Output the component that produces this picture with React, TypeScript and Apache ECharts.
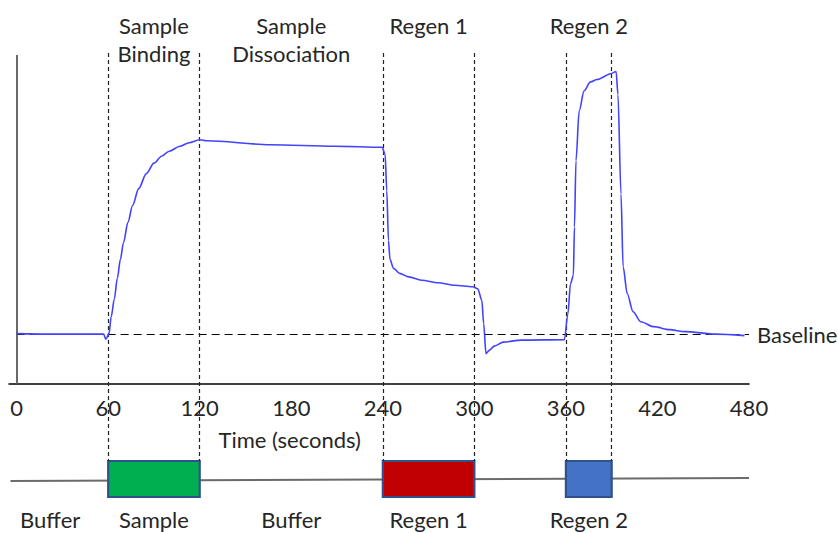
import React, { useEffect, useRef } from 'react';
import * as echarts from 'echarts';

// ---- data ----
const timeTicks = [0, 60, 120, 180, 240, 300, 360, 420, 480];
const eventTimes = [60, 120, 240, 300, 360, 390];

const responseTimes = [
  0, 20, 40, 57, 58.5, 60.5, 62, 64, 66, 68, 70, 73, 76, 80, 85, 90, 95, 100, 107, 113, 120,
  124.5, 165.9, 208.9, 239.5, 241.5, 242.6, 243.7, 244.7, 247, 251, 257, 265.4, 276.3, 287.1, 299,
  302.2, 304.9, 306.1, 307.6, 310, 313, 319, 330.8, 359, 361.3, 363, 364.9, 365.6, 366.6, 368.7,
  371.9, 376.1, 380.4, 390, 392.9, 394.1, 396.1, 397.5, 400.2, 404, 409, 417.6, 428, 438, 458.4, 477,
];
const responseValues = [
  1, 0, 0, 0, -10, 0, 35, 70, 112, 150, 183, 225, 258, 292, 322, 343, 357, 367, 377, 384, 390,
  388, 380, 377, 375, 361, 288, 188, 150, 132, 122, 115, 108, 103, 98, 95,
  91, 68, 21, -39, -32, -24, -16, -12, -11, 41, 101, 118, 215, 348, 448,
  488, 506, 511, 523, 527, 481, 281, 135, 81, 45, 25, 15, 9, 5, 0, -3,
];

const topLabels = ['Sample\nBinding', 'Sample\nDissociation', 'Regen 1', 'Regen 2'];
const topLabelTimes = [90, 180, 270, 375];

const injectionNames = ['Sample', 'Regen 1', 'Regen 2'];
const injectionStarts = [60, 240, 360];
const injectionEnds = [120, 300, 390];
const injectionColors = ['#00b050', '#c00000', '#4472c4'];

const bottomLabels = ['Buffer', 'Sample', 'Buffer', 'Regen 1', 'Regen 2'];
const bottomLabelTimes = [22, 90, 180, 270, 375];

const xAxisName = 'Time (seconds)';
const xAxisNameTime = 179;
const baselineName = 'Baseline';

const FONT = 'Lato, "Liberation Sans", sans-serif';
const TEXT = '#262626';

export default function App() {
  const ref = useRef<HTMLDivElement>(null);

  useEffect(() => {
    if (!ref.current) return;
    const chart = echarts.init(ref.current, undefined, { renderer: 'svg' });

    const curve = responseTimes.map((t, i) => [t, responseValues[i]]);

    const textItem = (label: string, t: number, y: number) => ({ label, t, y });
    const labelItems = [
      ...topLabels.map((l, i) => textItem(l, topLabelTimes[i], l.includes('\n') ? 39 : 25)),
      ...bottomLabels.map((l, i) => textItem(l, bottomLabelTimes[i], 519)),
      textItem(xAxisName, xAxisNameTime, 439),
    ];

    const option: any = {
      animation: false,
      textStyle: { fontFamily: FONT },
      grid: [
        { left: 9, right: 89, top: 55, bottom: 149 },
        { left: 9, right: 89, top: 0, bottom: 0 },
      ],
      xAxis: [
        {
          type: 'value',
          gridIndex: 0,
          min: -5,
          max: 480,
          axisLine: { onZero: false, lineStyle: { color: '#000', width: 1.5 } },
          axisTick: { show: false },
          splitLine: { show: false },
          axisLabel: {
            customValues: timeTicks,
            fontSize: 22,
            color: TEXT,
            margin: 12,
            fontFamily: FONT,
          },
        },
        { type: 'value', gridIndex: 1, min: -5, max: 480, show: false },
      ],
      yAxis: [
        { type: 'value', gridIndex: 0, min: -100, max: 560, show: false },
        { type: 'value', gridIndex: 1, min: 0, max: 533, inverse: true, show: false },
      ],
      series: [
        {
          type: 'line',
          xAxisIndex: 0,
          yAxisIndex: 0,
          data: curve,
          showSymbol: false,
          symbol: 'none',
          smooth: 0.3,
          smoothMonotone: 'x',
          clip: false,
          lineStyle: { color: '#4343ff', width: 1.6 },
          z: 5,
          markLine: {
            silent: true,
            symbol: ['none', 'none'],
            data: [
              [
                { coord: [0, 0], lineStyle: { color: '#000', width: 1.2, type: [8, 5] }, label: { show: true, position: 'end', formatter: baselineName, distance: 8, fontSize: 22, color: TEXT, fontFamily: FONT } },
                { coord: [480, 0] },
              ],
              [
                { coord: [0, -100], lineStyle: { color: '#595959', width: 1.8, type: 'solid' }, label: { show: false } },
                { coord: [0, 560] },
              ],
            ],
          },
        },
        {
          type: 'line',
          xAxisIndex: 1,
          yAxisIndex: 1,
          data: [[-4, 481], [480, 478]],
          showSymbol: false,
          symbol: 'none',
          clip: false,
          lineStyle: { color: '#6b6b6b', width: 2 },
          z: 2,
          markLine: {
            silent: true,
            symbol: ['none', 'none'],
            label: { show: false },
            lineStyle: { color: '#222', width: 1.2, type: [4, 3] },
            data: eventTimes.map((t) => [{ coord: [t, 53] }, { coord: [t, 461] }]),
          },
        },
        {
          type: 'custom',
          xAxisIndex: 1,
          yAxisIndex: 1,
          z: 3,
          clip: false,
          data: injectionNames.map((n, i) => [injectionStarts[i], injectionEnds[i], i]),
          renderItem: (params: any, api: any) => {
            const i = api.value(2);
            const a = api.coord([api.value(0), 461]);
            const b = api.coord([api.value(1), 497]);
            return {
              type: 'rect',
              shape: { x: a[0], y: a[1], width: b[0] - a[0], height: b[1] - a[1] },
              style: { fill: injectionColors[i], stroke: '#2f528f', lineWidth: 2.2 },
            };
          },
        },
        {
          type: 'custom',
          xAxisIndex: 1,
          yAxisIndex: 1,
          z: 6,
          clip: false,
          data: labelItems.map((d, i) => [d.t, d.y, i]),
          renderItem: (params: any, api: any) => {
            const item = labelItems[api.value(2)];
            const p = api.coord([api.value(0), api.value(1)]);
            return {
              type: 'text',
              x: p[0],
              y: p[1],
              style: {
                text: item.label,
                fill: TEXT,
                fontSize: 22,
                fontFamily: FONT,
                lineHeight: 28,
                align: 'center',
                verticalAlign: 'middle',
              },
            };
          },
        },
      ],
    };

    chart.setOption(option);
    return () => chart.dispose();
  }, []);

  return (
    <div
      ref={ref}
      style={{ position: 'absolute', left: 0, top: 0, width: 838, height: 533, background: '#fff' }}
    />
  );
}
